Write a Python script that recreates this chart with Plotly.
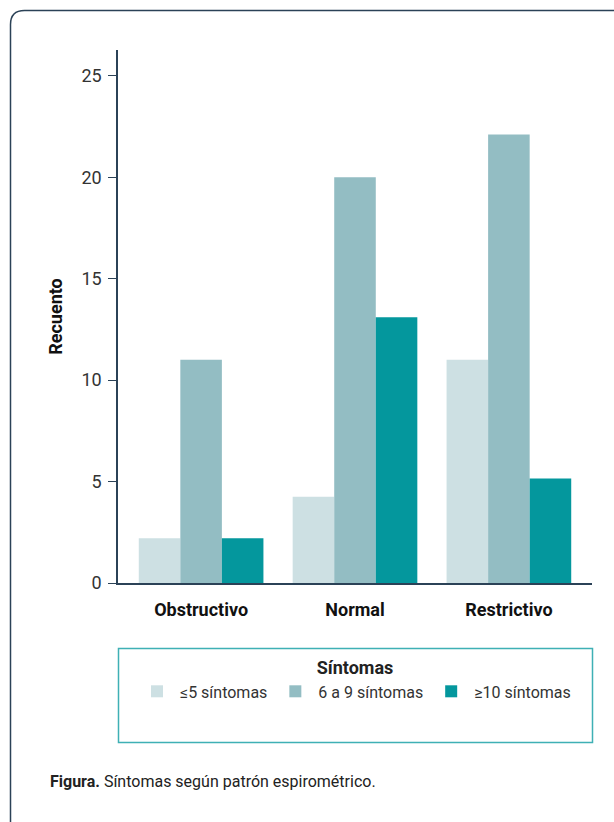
import plotly.graph_objects as go

categories = ["Obstructivo", "Normal", "Restrictivo"]
series_names = ["≤5 síntomas", "6 a 9 síntomas", "≥10 síntomas"]
vals_le5 = [2.2, 4.25, 11]
vals_6a9 = [11, 20, 22.1]
vals_ge10 = [2.2, 13.1, 5.15]
series_values = [vals_le5, vals_6a9, vals_ge10]
colors = ["#cde0e3", "#93bdc3", "#04979d"]
y_ticks = [0, 5, 10, 15, 20, 25]

FONT = "Roboto, Liberation Sans, sans-serif"
W, H = 614, 822
L, R, T, B = 118, 22, 50, 239
PW, PH = W - L - R, H - T - B

def px2x(px):
    return (px - L) / PW

def py2y(py):
    return (H - B - py) / PH

fig = go.Figure()
for name, vals, col in zip(series_names, series_values, colors):
    fig.add_trace(go.Bar(x=categories, y=vals, name=name, marker=dict(color=col, line=dict(width=0))))

# outer rounded frame
x0, y0, r = 10.5, 10.5, 14
xe, ye = 640, 850
path = (f"M {px2x(x0)},{py2y(ye)} L {px2x(x0)},{py2y(y0 + r)} "
        f"Q {px2x(x0)},{py2y(y0)} {px2x(x0 + r)},{py2y(y0)} L {px2x(xe)},{py2y(y0)}")

fig.update_layout(
    width=W, height=H,
    margin=dict(l=L, r=R, t=T, b=B),
    paper_bgcolor="white", plot_bgcolor="white",
    font=dict(family=FONT, size=17, color="#333333"),
    barmode="group", bargap=0.19, bargroupgap=0,
    showlegend=True,
    legend=dict(
        orientation="h", x=0.5, xanchor="center", y=py2y(651), yanchor="top",
        title=dict(text="<b>Síntomas</b>", side="top center", font=dict(size=18, color="#222222")),
        bgcolor="rgba(0,0,0,0)", borderwidth=0,
        font=dict(size=16, color="#333333"),
        itemwidth=36,
        traceorder="normal", itemclick=False, itemdoubleclick=False,
    ),
    shapes=[
        dict(type="path", xref="paper", yref="paper", path=path,
             line=dict(color="#2b4257", width=1.5), layer="above"),
        dict(type="rect", xref="paper", yref="paper",
             x0=px2x(118.5), x1=px2x(592.5), y0=py2y(742.5), y1=py2y(648.5),
             line=dict(color="#3fb0b5", width=1.5), layer="above"),
    ],
    annotations=[dict(xref="paper", yref="paper", x=px2x(48), y=py2y(781),
                      xanchor="left", yanchor="middle", showarrow=False,
                      text="<b>Figura.</b> Síntomas según patrón espirométrico.",
                      font=dict(size=16, color="#222222"))],
)
fig.update_xaxes(
    range=[-0.54, 2.54], showline=True, linecolor="#2b4257", linewidth=1.5,
    ticks="", showgrid=False, zeroline=False, ticklabelstandoff=10,
    tickfont=dict(size=18, color="#111111", family=FONT, weight="bold"),
)
fig.update_yaxes(
    range=[0, 26.27], tickvals=y_ticks, showline=True, linecolor="#2b4257", linewidth=1.5,
    ticks="outside", ticklen=8, tickcolor="#2b4257", tickwidth=1.2,
    showgrid=False, zeroline=False, ticklabelstandoff=3,
    title=dict(text="<b>Recuento</b>", font=dict(size=18, color="#111111"), standoff=14),
    tickfont=dict(size=18, color="#333333"),
)
fig.write_html("out.html", config={"displayModeBar": False},
               post_script="document.body.style.margin='0';")
